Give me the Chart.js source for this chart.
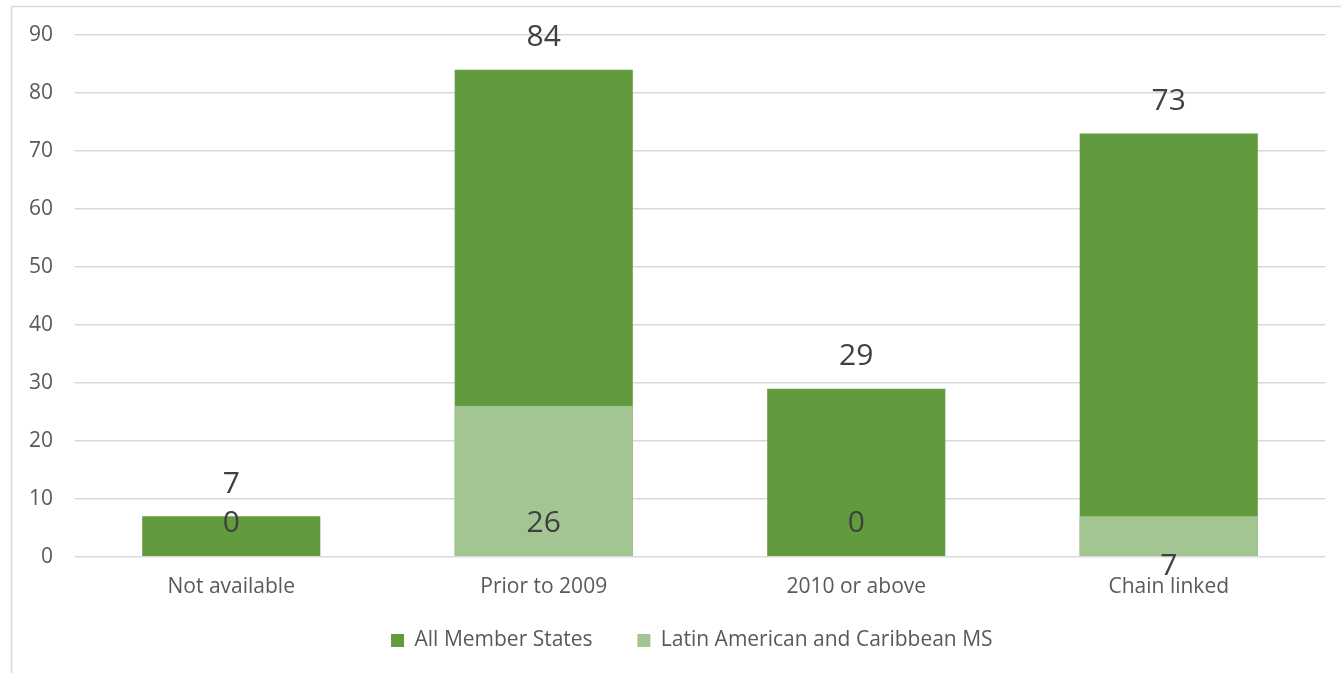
<!DOCTYPE html>
<html><head><meta charset="utf-8">
<script src="https://cdn.jsdelivr.net/npm/chart.js@4"></script>
<style>html,body{margin:0;padding:0;background:#fff;overflow:hidden}#wrap{width:1341px;height:673px;position:relative}</style>
</head><body><div id="wrap"><canvas id="c"></canvas></div>
<script>
const categories = ["Not available", "Prior to 2009", "2010 or above", "Chain linked"];
const allMemberStates = [7, 84, 29, 73];
const latinAmericanMS = [0, 26, 0, 7];
const yTicks = [0, 10, 20, 30, 40, 50, 60, 70, 80, 90];
const seriesNames = ["All Member States", "Latin American and Caribbean MS"];
// label placement: 'base' = just inside base, 'below' = under axis
const lacLabelPlacement = ["base", "base", "base", "below"];

const FONT = "'Open Sans', 'Liberation Sans', sans-serif";

const framePlugin = {
  id: 'frame',
  beforeDraw(chart) {
    const ctx = chart.ctx;
    ctx.save();
    ctx.fillStyle = '#fff';
    ctx.fillRect(0, 0, chart.width, chart.height);
    ctx.strokeStyle = '#d9d9d9';
    ctx.lineWidth = 1.5;
    ctx.strokeRect(11.5, 6.5, chart.width + 20, chart.height + 20);
    ctx.restore();
  }
};

const labelPlugin = {
  id: 'vlabels',
  afterDatasetsDraw(chart) {
    const ctx = chart.ctx;
    const y = chart.scales.y;
    const base = y.getPixelForValue(0);
    ctx.save();
    ctx.font = "30px " + FONT;
    ctx.fillStyle = '#404040';
    ctx.textAlign = 'center';
    ctx.textBaseline = 'middle';
    const m0 = chart.getDatasetMeta(0);
    m0.data.forEach((bar, i) => {
      ctx.fillText(String(allMemberStates[i]), bar.x, bar.y - 32);
    });
    const m1 = chart.getDatasetMeta(1);
    m1.data.forEach((bar, i) => {
      const p = lacLabelPlacement[i];
      const yy = p === 'below' ? base + 10 : base - 33;
      ctx.fillText(String(latinAmericanMS[i]), bar.x, yy);
    });
    ctx.restore();
  }
};

new Chart(document.getElementById('c'), {
  type: 'bar',
  data: {
    labels: categories,
    datasets: [
      { label: seriesNames[0], data: allMemberStates, backgroundColor: '#629b3e', grouped: false, order: 1,
        categoryPercentage: 1, barPercentage: 0.57 },
      { label: seriesNames[1], data: latinAmericanMS, backgroundColor: '#a3c592', grouped: false, order: 0,
        categoryPercentage: 1, barPercentage: 0.57 }
    ]
  },
  options: {
    responsive: true,
    maintainAspectRatio: false,
    animation: false,
    devicePixelRatio: 1,
    layout: { padding: { left: 0, right: 16, top: 35, bottom: 12 } },
    plugins: {
      tooltip: { enabled: false },
      legend: {
        position: 'bottom',
        fullSize: false,
        labels: {
          sort: (a, b) => a.datasetIndex - b.datasetIndex,
          generateLabels(chart) {
            const items = Chart.defaults.plugins.legend.labels.generateLabels(chart);
            items.forEach(it => {
              it.text = it.text + '\u00A0'.repeat(it.datasetIndex === 0 ? 6 : 3);
            });
            return items;
          },
          boxWidth: 13, boxHeight: 13, padding: 12,
          color: '#595959', font: { family: FONT, size: 21 }
        }
      }
    },
    scales: {
      x: {
        grid: { display: false, drawTicks: false },
        border: { display: false },
        ticks: { color: '#595959', font: { family: FONT, size: 21 }, padding: 18 }
      },
      y: {
        min: 0, max: 90,
        afterBuildTicks(scale) { scale.ticks = yTicks.map(v => ({ value: v })); },
        afterFit(scale) { scale.width = 75; },
        grid: { color: '#d9d9d9', lineWidth: 1.5, drawTicks: false },
        border: { display: false },
        ticks: { color: '#595959', font: { family: FONT, size: 21 }, padding: 22 }
      }
    }
  },
  plugins: [framePlugin, labelPlugin]
});
</script></body></html>
